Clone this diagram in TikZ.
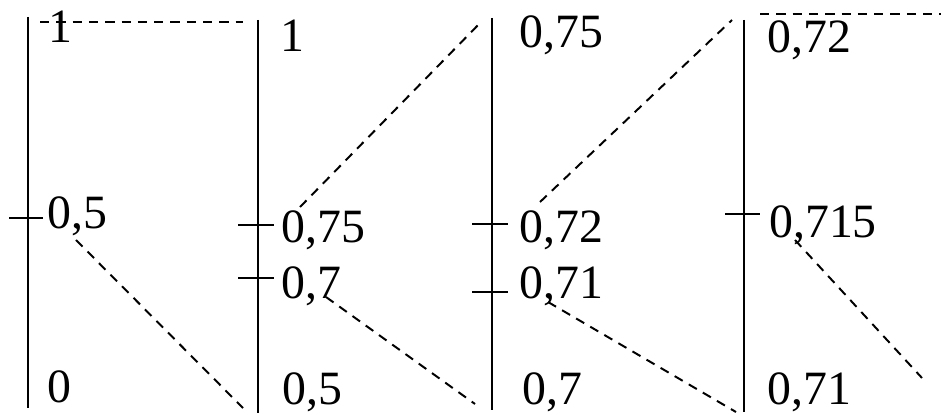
\documentclass[tikz,border=0pt]{standalone}
\usepackage{fontspec}
\setmainfont{Liberation Serif}
\usetikzlibrary{positioning}

\begin{document}
\begin{tikzpicture}[
  axisline/.style={line width=1.9pt},
  tickline/.style={line width=1.6pt},
  cutline/.style={line width=1.4pt, dash pattern=on 6.6pt off 5pt},
  val/.style={anchor=base west, inner sep=0pt, font=\fontsize{34}{40}\selectfont}
]
  \useasboundingbox (0,0) rectangle (23.525,-10.4);

  % --- axes ---
  \coordinate (a1t) at (0.70,-0.425);  \coordinate (a1b) at (0.70,-10.2);
  \coordinate (a2t) at (6.45,-0.5);    \coordinate (a2b) at (6.45,-10.325);
  \coordinate (a3t) at (12.3,-0.45);   \coordinate (a3b) at (12.3,-10.25);
  \coordinate (a4t) at (18.6,-0.5);    \coordinate (a4b) at (18.6,-10.3);
  \draw[axisline] (a1t) -- (a1b);
  \draw[axisline] (a2t) -- (a2b);
  \draw[axisline] (a3t) -- (a3b);
  \draw[axisline] (a4t) -- (a4b);

  % --- ticks ---
  \coordinate (t1l) at (0.225,-5.45);  \coordinate (t1r) at (1.075,-5.45);
  \coordinate (t2l) at (5.95,-5.625);  \coordinate (t2r) at (6.85,-5.625);
  \coordinate (t3l) at (5.95,-6.95);   \coordinate (t3r) at (6.85,-6.95);
  \coordinate (t4l) at (11.8,-5.6);    \coordinate (t4r) at (12.7,-5.6);
  \coordinate (t5l) at (11.8,-7.3);    \coordinate (t5r) at (12.7,-7.3);
  \coordinate (t6l) at (18.125,-5.35); \coordinate (t6r) at (19.0,-5.35);
  \draw[tickline] (t1l) -- (t1r);
  \draw[tickline] (t2l) -- (t2r);
  \draw[tickline] (t3l) -- (t3r);
  \draw[tickline] (t4l) -- (t4r);
  \draw[tickline] (t5l) -- (t5r);
  \draw[tickline] (t6l) -- (t6r);

  % --- values ---
  \node[val] (v1top) at (1.2,-1.075)    {1};
  \node[val] (v1mid) at (1.175,-5.725)  {0,5};
  \node[val] (v1bot) at (1.175,-10.05)  {0};

  \node[val] (v2top) at (7.0,-1.3)      {1};
  \node[val] (v2up)  at (7.025,-6.075)  {0,75};
  \node[val] (v2lo)  at (7.025,-7.45)   {0,7};
  \node[val] (v2bot) at (7.05,-10.1)    {0,5};

  \node[val] (v3top) at (12.975,-1.2)   {0,75};
  \node[val] (v3up)  at (12.975,-6.075) {0,72};
  \node[val] (v3lo)  at (12.975,-7.45)  {0,71};
  \node[val] (v3bot) at (13.05,-10.1)   {0,7};

  \node[val] (v4top) at (19.175,-1.325) {0,72};
  \node[val] (v4mid) at (19.225,-5.95)  {0,715};
  \node[val] (v4bot) at (19.175,-10.1)  {0,71};

  % --- dashed zoom lines ---
  \coordinate (d1a) at (1.0,-0.55);    \coordinate (d1b) at (6.075,-0.55);
  \coordinate (d2a) at (1.9,-6.0);     \coordinate (d2b) at (6.075,-10.2);
  \coordinate (d3a) at (7.5,-5.175);   \coordinate (d3b) at (12.05,-0.525);
  \coordinate (d4a) at (8.15,-7.425);  \coordinate (d4b) at (11.875,-10.1);
  \coordinate (d5a) at (13.5,-5.05);   \coordinate (d5b) at (18.3,-0.5);
  \coordinate (d6a) at (13.7,-7.55);   \coordinate (d6b) at (18.4,-10.3);
  \coordinate (d7a) at (19.875,-6.0);  \coordinate (d7b) at (23.05,-9.45);
  \coordinate (d8a) at (19.0,-0.35);   \coordinate (d8b) at (23.525,-0.35);
  \draw[cutline] (d1a) -- (d1b);
  \draw[cutline] (d2a) -- (d2b);
  \draw[cutline] (d3a) -- (d3b);
  \draw[cutline] (d4a) -- (d4b);
  \draw[cutline] (d5a) -- (d5b);
  \draw[cutline] (d6a) -- (d6b);
  \draw[cutline] (d7a) -- (d7b);
  \draw[cutline] (d8a) -- (d8b);
\end{tikzpicture}
\end{document}
